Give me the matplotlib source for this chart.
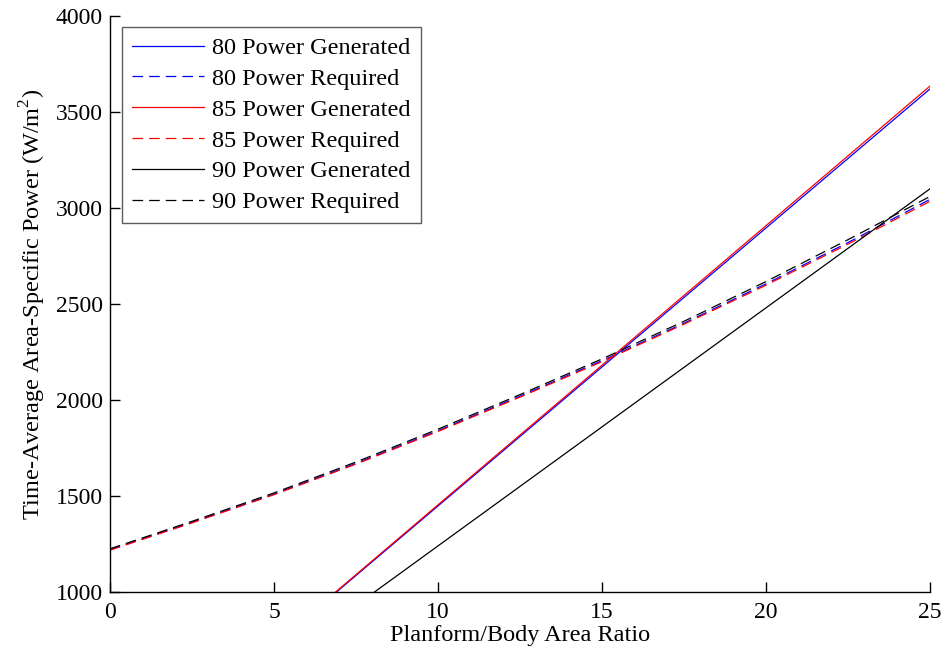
import matplotlib
matplotlib.use("Agg")
import matplotlib.pyplot as plt

plt.rcParams['font.family'] = ['Liberation Serif', 'DejaVu Serif']
plt.rcParams['mathtext.fontset'] = 'custom'
plt.rcParams['mathtext.rm'] = 'Liberation Serif'

x_gen = [0, 5, 10, 15, 20, 25]
gen80 = [0, 724, 1448, 2172, 2896, 3620]
gen85 = [0, 727, 1454, 2181, 2908, 3635]
gen90 = [0, 620, 1240, 1860, 2480, 3100]

x_req = [0, 2.5, 5, 7.5, 10, 12.5, 15, 17.5, 20, 22.5, 25]
req80 = [1220, 1363, 1510, 1670, 1840, 2020, 2205, 2400, 2605, 2820, 3045]
req85 = [1218, 1360, 1507, 1666, 1836, 2015, 2200, 2395, 2598, 2812, 3035]
req90 = [1225, 1368, 1516, 1677, 1848, 2028, 2214, 2410, 2617, 2835, 3060]

labels = ["80 Power Generated", "80 Power Required",
          "85 Power Generated", "85 Power Required",
          "90 Power Generated", "90 Power Required"]

fig = plt.figure(figsize=(9.47, 6.59), dpi=100)
ax = fig.add_axes([110/947, 67/659, 820/947, 576/659])

lw = 0.9
dash = (0, (8.5, 4.8))
ax.plot(x_gen, gen80, color='#0000ff', lw=lw, label=labels[0])
ax.plot(x_req, req80, color='#0000ff', lw=lw, ls=dash, label=labels[1])
ax.plot(x_gen, gen85, color='#ff0000', lw=lw, label=labels[2])
ax.plot(x_req, req85, color='#ff0000', lw=lw, ls=dash, label=labels[3])
ax.plot(x_gen, gen90, color='#000000', lw=lw, label=labels[4])
ax.plot(x_req, req90, color='#000000', lw=lw, ls=dash, label=labels[5])

ax.set_xlim(0, 25)
ax.set_ylim(1000, 4000)
ax.set_xticks([0, 5, 10, 15, 20, 25])
ax.set_yticks([1000, 1500, 2000, 2500, 3000, 3500, 4000])
ax.tick_params(direction='in', length=7, width=1, labelsize=17)
ax.tick_params(axis='y', pad=5)
ax.tick_params(axis='x', pad=7)
for s in ['top', 'right']:
    ax.spines[s].set_visible(False)
for s in ['left', 'bottom']:
    ax.spines[s].set_linewidth(1)

ax.set_xlabel("Planform/Body Area Ratio", fontsize=17.5, labelpad=2)
ax.set_ylabel(r"Time-Average Area-Specific Power (W/m$^2$)", fontsize=17.5, labelpad=6)

leg = ax.legend(loc='upper left', fontsize=17.5, frameon=True, fancybox=False,
                edgecolor='#333333', handlelength=2.95, handletextpad=0.33,
                labelspacing=0.36, borderpad=0.42, borderaxespad=0,
                bbox_to_anchor=(12/820, 1 - 11/576))
leg.get_frame().set_linewidth(1)

fig.savefig("out.png", dpi=100, facecolor='white')
